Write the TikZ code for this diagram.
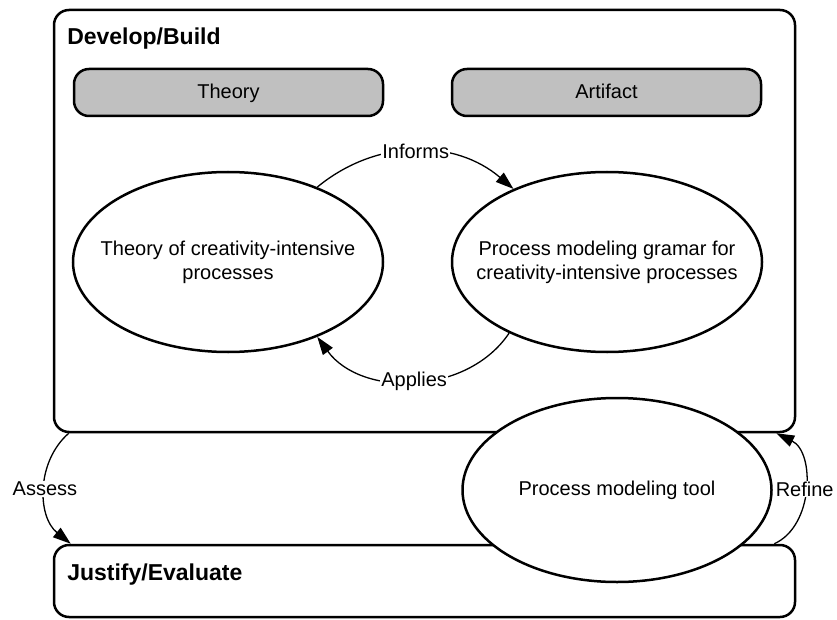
\documentclass[tikz,border=0pt]{standalone}
\usepackage{fontspec}
\setmainfont{Liberation Sans}
\usetikzlibrary{shapes.geometric,arrows.meta}
\definecolor{boxgray}{RGB}{192,192,192}
\newcommand{\diagfont}{\fontsize{20}{24}\selectfont}
\newcommand{\titlefont}{\fontsize{23}{27}\selectfont\bfseries}

\begin{document}
\begin{tikzpicture}[x=1pt, y=1pt,
	every node/.style={font=\diagfont},
	stagebox/.style={draw, line width=2.5pt, rounded corners=15pt, minimum width=741pt},
	phasebox/.style={draw, line width=2.5pt, rounded corners=15pt, fill=boxgray, minimum width=309pt, minimum height=47pt, text height=15pt, text depth=2pt},
	bubble/.style={draw, ellipse, line width=2.5pt, fill=white, inner sep=0pt},
	flowline/.style={-{Triangle[length=18pt,width=12pt]}, line width=1.3pt},
	arclabel/.style={fill=white, inner sep=1pt}]
		\useasboundingbox (0, 0) rectangle (837, -620);
		\draw[color=black, line width=2.5pt]
		node[stagebox,minimum height=422pt] (develop) at (424.5, -221){}
		node[stagebox,minimum height=72pt] (justify) at (424.5, -581){}
		node[anchor=base west,inner sep=0pt,font=\titlefont] (develop_title) at (66, -45){Develop/Build}
		node[anchor=base west,inner sep=0pt,font=\titlefont] (justify_title) at (66, -580){Justify/Evaluate}
		node[phasebox] (theory) at (228.5, -92.5){Theory}
		node[phasebox] (artifact) at (606.5, -92.5){Artifact}
		node[bubble,minimum width=310pt,minimum height=180pt,label={[align=center]center:Theory of creativity-intensive\\processes}] (theory_ellipse) at (228, -262){}
		node[bubble,minimum width=310pt,minimum height=180pt,label={[align=center]center:Process modeling gramar for\\creativity-intensive processes}] (gramar) at (607, -262){}
		node[bubble,minimum width=309pt,minimum height=184pt,label=center:Process modeling tool] (tool) at (617, -490){};
		\draw [flowline] (theory_ellipse.40) to[bend left=40] node[arclabel] (informs) {Informs} (gramar.142);
		\draw [flowline] (gramar.216) to[bend left=55] node[arclabel] (applies) {Applies} (theory_ellipse.320);
		\draw [flowline] ([xshift=16pt]develop.south west) to[bend right=50] node[arclabel] (assess) {Assess} ([xshift=18pt]justify.north west);
		\draw [flowline] ([xshift=-22pt]justify.north east) to[bend right=65] node[arclabel] (refine) {Refine} ([xshift=-20pt]develop.south east);
		\end{tikzpicture}
\end{document}
